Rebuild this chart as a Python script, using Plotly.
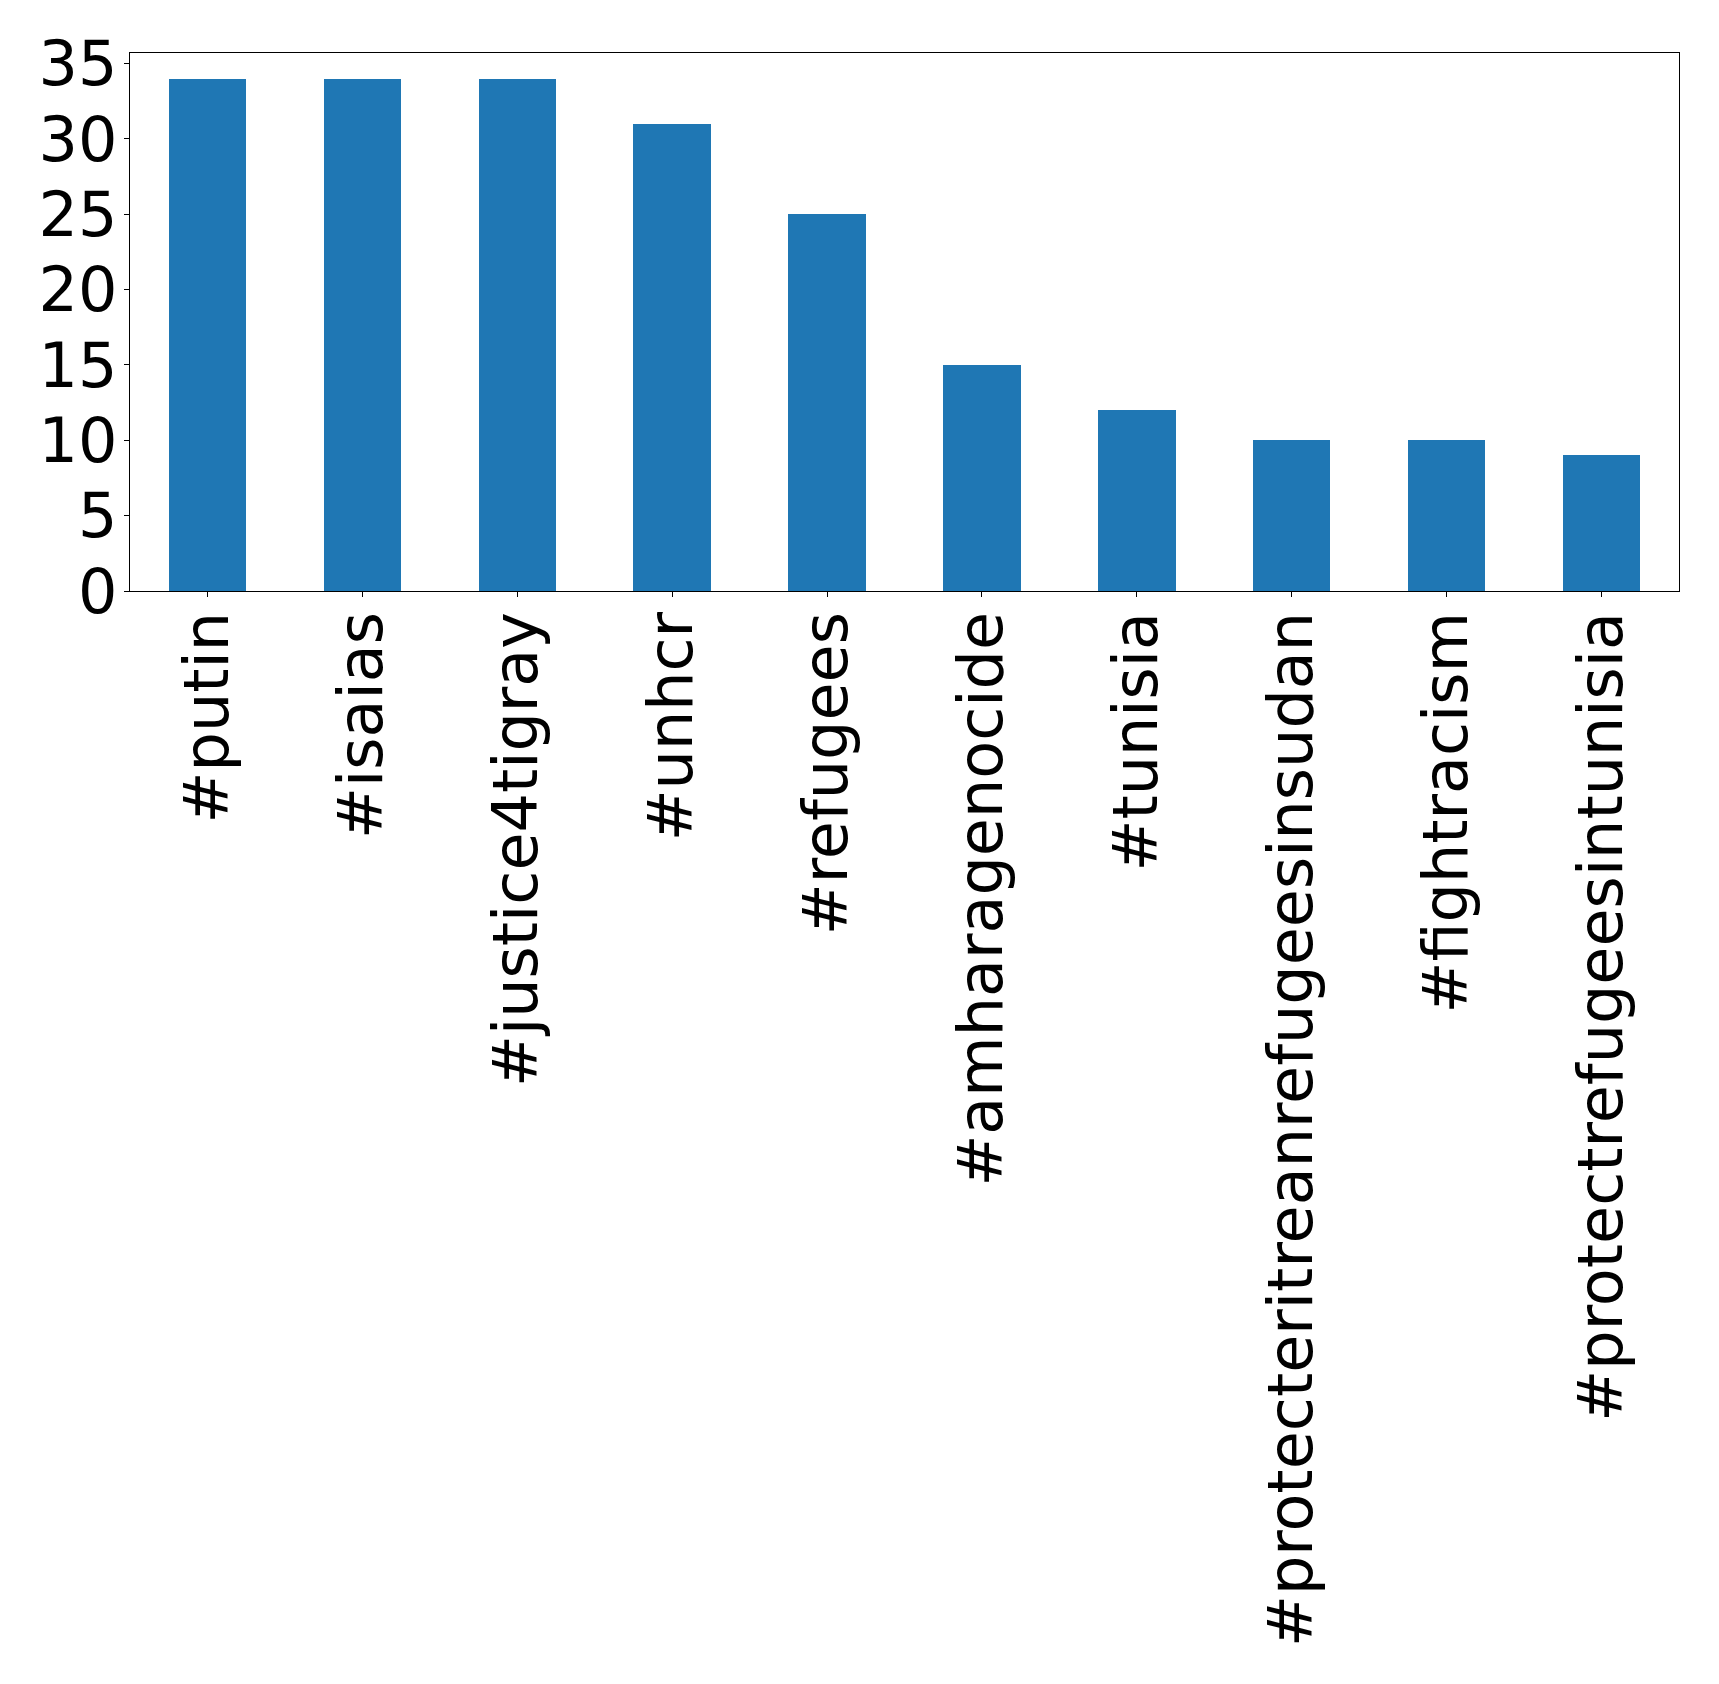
import plotly.graph_objects as go

hashtags = ["#putin", "#isaias", "#justice4tigray", "#unhcr", "#refugees",
            "#amharagenocide", "#tunisia", "#protecteritreanrefugeesinsudan",
            "#fightracism", "#protectrefugeesintunisia"]
counts = [34, 34, 34, 31, 25, 15, 12, 10, 10, 9]
y_ticks = [0, 5, 10, 15, 20, 25, 30, 35]

fig = go.Figure(go.Bar(x=list(range(len(hashtags))), y=counts, width=0.5,
                       marker=dict(color="#1f77b4", line=dict(width=0))))

fig.update_layout(
    width=1719, height=1684,
    margin=dict(l=121.5, r=47.5, t=44.5, b=1101, pad=0),
    plot_bgcolor="white", paper_bgcolor="white",
    font=dict(family="DejaVu Sans", size=62, color="black"),
    showlegend=False,
    bargap=0,
)
fig.update_xaxes(range=[-0.5, 9.5], tickmode="array",
                 tickvals=list(range(len(hashtags))), ticktext=hashtags,
                 tickangle=-90, ticks="outside", ticklen=5, tickwidth=1,
                 tickcolor="black", showline=True, linecolor="black",
                 linewidth=1.3, mirror=True, showgrid=False, zeroline=False,
                 ticklabelstandoff=-10)
fig.update_yaxes(range=[0, 35.7], tickmode="array", tickvals=y_ticks,
                 ticks="outside", ticklen=5, tickwidth=1, tickcolor="black",
                 showline=True, linecolor="black", linewidth=1.3, mirror=True,
                 showgrid=False, zeroline=False, ticklabelstandoff=-6)

fig.write_html("out.html")
